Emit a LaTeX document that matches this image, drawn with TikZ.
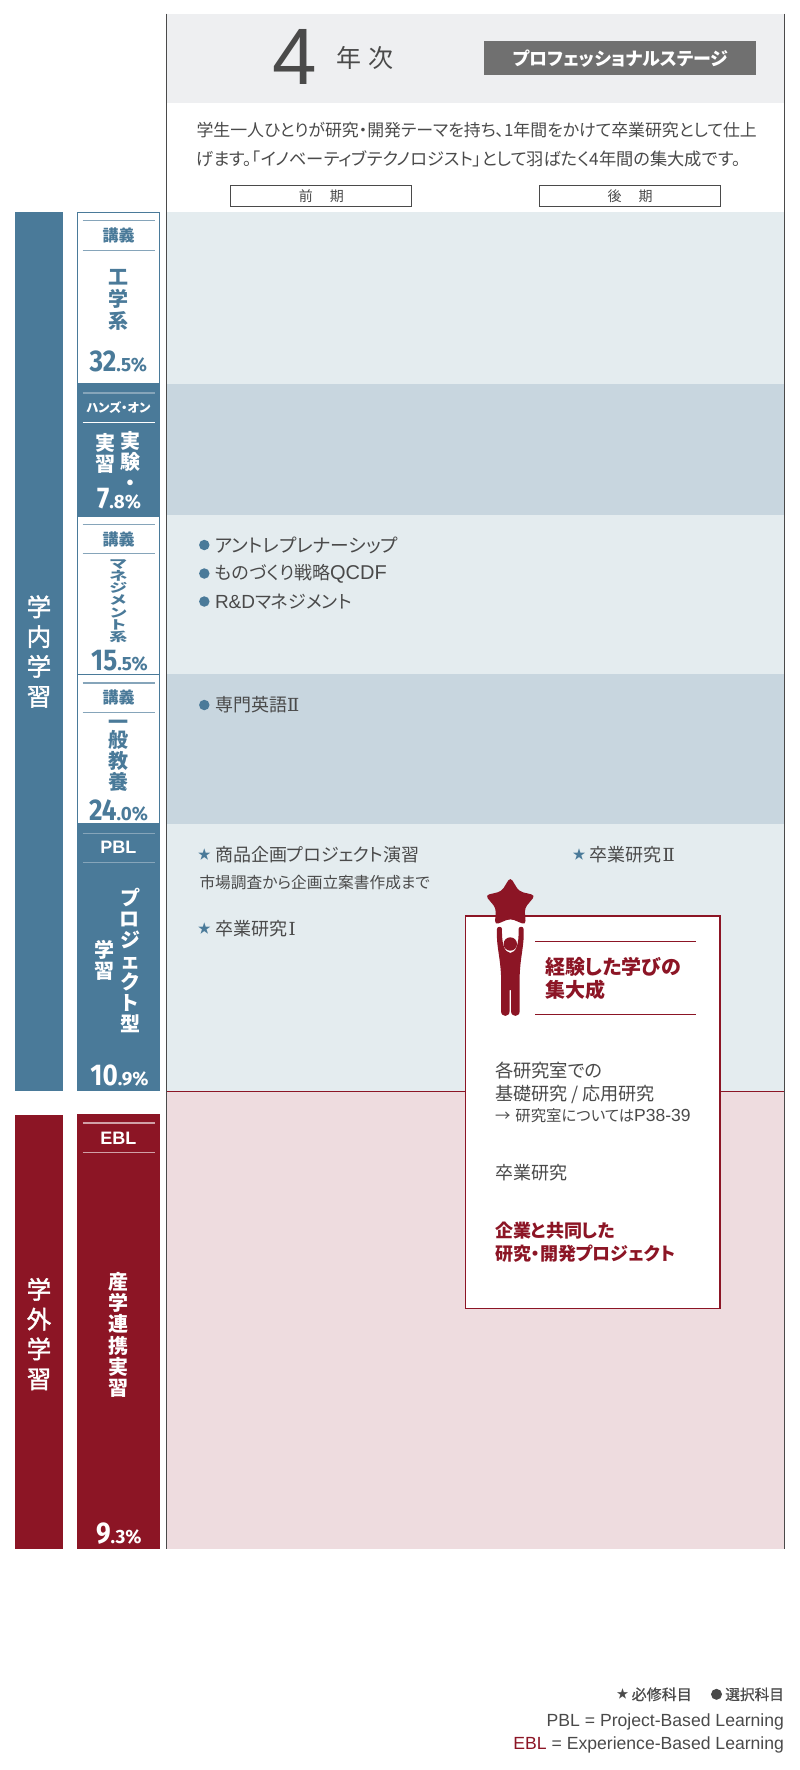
\documentclass[tikz,border=0pt]{standalone}
\usepackage{fontspec}
\newfontfamily\cjk[RawFeature={+palt}]{Noto Sans CJK JP}
\newfontfamily\cjkw{Noto Sans CJK JP}
\newfontfamily\cjkm[RawFeature={+palt},FakeBold=0.6]{Noto Sans CJK JP}
\newfontfamily\cjkn[RawFeature={+palt},FakeBold=1.6]{Noto Sans CJK JP}
\newfontfamily\numf[FakeStretch=0.87]{Fira Sans}
\newfontfamily\numg[FakeStretch=0.98]{Fira Sans}
\newfontfamily\lsans{Liberation Sans}
\newfontfamily\romf{DejaVu Serif}
\newcommand{\fs}[1]{\fontsize{#1}{#1}\selectfont}
\newcommand{\pct}[2]{{\numf\bfseries\fs{30}#1\numg\bfseries\fs{19.2}#2}}
\definecolor{bluem}{HTML}{4A7A99}
\definecolor{bluel}{HTML}{86A5BA}
\definecolor{crim}{HTML}{8C1525}
\definecolor{rowa}{HTML}{E4ECEF}
\definecolor{rowb}{HTML}{C8D6DF}
\definecolor{rowp}{HTML}{EEDCDF}
\definecolor{ink}{HTML}{4A4A4A}
\definecolor{hdr}{HTML}{EEEFF1}
\definecolor{stage}{HTML}{707070}
\tikzset{
  x=1pt,y=-1pt,
  every node/.style={inner sep=0pt,outer sep=0pt},
  txt/.style={anchor=west,text=ink,font=\cjk\fs{18}},
  small/.style={anchor=west,text=ink,font=\cjk\fs{15.7}},
  head/.style={anchor=west,text=crim,font=\cjk\bfseries\fs{18}},
  lec/.style={text=bluem,font=\cjkw\bfseries\fs{16}},
  wlab/.style={text=white,font=\cjk\bfseries\fs{12.4}},
  vert/.style={align=center,text=bluem,font=\cjk\bfseries\fontsize{20}{21.4}\selectfont},
  vertw/.style={align=center,text=white,font=\cjk\bfseries\fontsize{20}{21.2}\selectfont},
  big/.style={align=center,text=white,font=\cjkn\fontsize{24.5}{29.8}\selectfont},
  abbr/.style={text=white,font=\lsans\bfseries\fs{18}},
  bul/.style={circle,fill=bluem,minimum size=10.5pt},
  str/.style={text=bluem,font=\cjkw\fs{13}},
  term/.style={draw=ink,line width=0.9pt,fill=white,minimum width=181pt,minimum height=21.4pt,text=ink,font=\cjkw\fs{14}},
  lgd/.style={anchor=east,text=ink,font=\lsans\fs{17.6}},
}
\begin{document}
\begin{tikzpicture}
\useasboundingbox (0,0) rectangle (800,1770);
\fill[white] (0,0) rectangle (800,1770);
% header and rows
\fill[hdr] (166.5,13.5) rectangle (784.5,103);
\fill[rowa] (166.5,212) rectangle (784.5,383.5);
\fill[rowb] (166.5,383.5) rectangle (784.5,515);
\fill[rowa] (166.5,515) rectangle (784.5,674);
\fill[rowb] (166.5,674) rectangle (784.5,824);
\fill[rowa] (166.5,824) rectangle (784.5,1091);
\fill[rowp] (166.5,1091) rectangle (784.5,1549);
\draw[crim,line width=1pt] (166.5,1091) -- (784.5,1091);
\draw[ink,line width=1pt] (166.5,13.5) -- (166.5,1549);
\draw[ink,line width=1pt] (784.5,13.5) -- (784.5,1549);
% header
\node[text=ink,font=\lsans\fs{80}] (four) at (295,57) {4};
\node[text=ink,font=\cjkw\fs{25}] (nen) at (348.7,58) {年};
\node[text=ink,font=\cjkw\fs{25}] (ji) at (380.8,58) {次};
\node[fill=stage,minimum width=271.5pt,minimum height=33.7pt] (stagebox) at (620.2,58.2) {};
\node[text=white,font=\cjk\bfseries\fs{18}] (stagetxt) at (620.5,58.2) {プロフェッショナルステージ};
\node[txt,font=\cjk\fs{16.9}] (p1) at (196.5,130) {学生一人ひとりが研究・開発テーマを持ち、1年間をかけて卒業研究として仕上};
\node[txt,font=\cjk\fs{17.24}] (p2) at (196.5,159) {げます。「イノベーティブテクノロジスト」として羽ばたく4年間の集大成です。};
\node[term] (zen) at (321.4,196) {前\hspace{17pt}期};
\node[term] (ko) at (630.2,196) {後\hspace{17pt}期};
% left bars
\fill[bluem] (15.3,212) rectangle (62.7,1090.5);
\fill[crim] (15.3,1115) rectangle (62.7,1548.5);
\node[big] (gakunai) at (39,651.5) {学\\内\\学\\習};
\node[big] (gakugai) at (39,1334) {学\\外\\学\\習};
% category column
\draw[bluem,line width=1.4pt,fill=white] (77.4,212.7) rectangle (159.3,383.5);
\fill[bluem] (76.7,383.5) rectangle (160,516);
\draw[bluem,line width=1.2pt,fill=white] (77.4,516) rectangle (159.3,674.5);
\draw[bluem,line width=1.2pt,fill=white] (77.4,674.5) rectangle (159.3,824);
\fill[bluem] (76.7,824) rectangle (160,1091);
\fill[crim] (76.7,1114.3) rectangle (160,1549.3);
% block A
\draw[bluel,line width=1.6pt] (82.5,220.3) -- (154.5,220.3);
\draw[bluel,line width=1pt] (82.5,250.3) -- (154.5,250.3);
\node[lec] (a1) at (118.5,235) {講義};
\node[vert,font=\cjk\bfseries\fontsize{20}{21.8}\selectfont] (a2) at (118.3,300) {工\\学\\系};
\node[text=bluem] (a3) at (118.3,362) {\pct{32}{.5\%}};
% block B
\draw[bluel,line width=1.6pt] (82.5,392.7) -- (154.5,392.7);
\draw[white,line width=1pt] (82.5,422.3) -- (154.5,422.3);
\node[wlab] (b1) at (118.5,407.7) {ハンズ・オン};
\node[vertw] (b2) at (130.7,461) {実\\験\\・};
\node[vertw] (b3) at (105.7,453.5) {実\\習};
\node[text=white] (b4) at (119,499) {\pct{7}{.8\%}};
% block C
\draw[bluel,line width=1.2pt] (82.5,524.3) -- (154.5,524.3);
\draw[bluel,line width=1pt] (82.5,553.3) -- (154.5,553.3);
\node[lec] (c1) at (118.5,539) {講義};
\node[align=center,text=bluem,yscale=0.68,font=\cjk\bfseries\fontsize{18}{18}\selectfont] (c2) at (118.3,601) {マ\\ネ\\ジ\\メ\\ン\\ト\\系};
\node[text=bluem] (c3) at (119.5,661) {\pct{15}{.5\%}};
% block D
\draw[bluel,line width=1.6pt] (82.5,682.7) -- (154.5,682.7);
\draw[bluel,line width=1pt] (82.5,712.3) -- (154.5,712.3);
\node[lec] (d1) at (118.5,697.7) {講義};
\node[vert] (d2) at (118.3,756) {一\\[-4pt]般\\教\\養};
\node[text=bluem] (d3) at (118.5,810) {\pct{24}{.0\%}};
% block E
\draw[bluel,line width=1.2pt] (82.5,833.3) -- (154.5,833.3);
\draw[bluel,line width=1pt] (82.5,862.7) -- (154.5,862.7);
\node[abbr] (e1) at (118.3,847.7) {PBL};
\node[vertw,font=\cjk\bfseries\fontsize{20}{21}\selectfont] (e2) at (130,960) {プ\\ロ\\ジ\\ェ\\ク\\ト\\型};
\node[vertw] (e3) at (104.3,960.5) {学\\習};
\node[text=white] (e4) at (119.5,1076) {\pct{10}{.9\%}};
% block F
\draw[rowp!70!crim,line width=1.2pt] (82.5,1123) -- (154.5,1123);
\draw[rowp!70!crim,line width=1pt] (82.5,1152.7) -- (154.5,1152.7);
\node[abbr] (f1) at (118.3,1138) {EBL};
\node[vertw,font=\cjk\bfseries\fontsize{20}{21.3}\selectfont] (f2) at (118.3,1335) {産\\学\\連\\携\\実\\習};
\node[text=white] (f3) at (118.8,1534) {\pct{9}{.3\%}};
% courses
\node[bul] (b31) at (204.3,545) {};
\node[txt,font=\cjk\fs{18.7}] (t31) at (215,545) {アントレプレナーシップ};
\node[bul] (b32) at (204.3,573.5) {};
\node[txt] (t32) at (215,573.5) {ものづくり戦略{\lsans\fs{20}QCDF}};
\node[bul] (b33) at (204.3,601.5) {};
\node[txt] (t33) at (215,601.5) {{\lsans\fs{19}R\&D}マネジメント};
\node[bul] (b41) at (204.3,705) {};
\node[txt] (t41) at (215,705) {専門英語{\romf Ⅱ}};
\node[str] (s51) at (204.3,854.3) {★};
\node[txt] (t51) at (215,854.3) {商品企画プロジェクト演習};
\node[small] (t52) at (199.5,882.3) {市場調査から企画立案書作成まで};
\node[str] (s53) at (204.3,928.3) {★};
\node[txt] (t53) at (215,928.3) {卒業研究\hspace{1.5pt}{\romf Ⅰ}};
\node[str] (s54) at (579,854.3) {★};
\node[txt] (t54) at (589,854.3) {卒業研究\hspace{1.5pt}{\romf Ⅱ}};
% call-out
\draw[crim,line width=1.3pt,fill=white] (465.7,916) rectangle (720,1308.7);
\fill[crim,rounded corners=4pt] (510.3,877.1) -- (519.1,891.4) -- (535.4,895.3) -- (524.6,908.2) -- (525.8,924.9) -- (510.3,918.5) -- (494.8,924.9) -- (496,908.2) -- (485.2,895.3) -- (501.5,891.4) -- cycle;
\fill[crim] (497,929) .. controls (497,926) and (502,926) .. (502,929)
  .. controls (501.6,945) and (504.6,952) .. (510.3,953)
  .. controls (516,952) and (519,945) .. (518.6,929)
  .. controls (518.6,926) and (523.6,926) .. (523.6,929)
  .. controls (524.5,945) and (520.5,955) .. (519.7,975)
  -- (519.7,1011) .. controls (519.7,1017.5) and (511,1017.5) .. (511,1011)
  -- (511,990) -- (509.6,990) -- (509.6,1011)
  .. controls (509.6,1017.5) and (501,1017.5) .. (501,1011)
  -- (501,975) .. controls (500,955) and (496,945) .. (497,929) -- cycle;
\node[circle,fill=crim,minimum size=13.4pt] (headc) at (510.3,944) {};
\coordinate (r1a) at (535.3,941);
\coordinate (r1b) at (695.7,941);
\coordinate (r2a) at (535.3,1014);
\coordinate (r2b) at (695.7,1014);
\draw[crim,line width=1pt] (r1a) -- (r1b);
\draw[crim,line width=1pt] (r2a) -- (r2b);
\node[head,font=\cjk\bfseries\fs{20}] (h1) at (545,966.7) {経験した学びの};
\node[head,font=\cjk\bfseries\fs{20}] (h2) at (545,990) {集大成};
\node[txt,font=\cjk\fs{18.3}] (x1) at (495,1070.7) {各研究室での};
\node[txt,font=\cjk\fs{18.1}] (x2) at (495,1094.3) {基礎研究 / 応用研究};
\node[small,font=\cjk\fs{15.4}] (x3) at (495,1116) {{\cjkw →}\hspace{5pt}研究室については{\lsans\fs{17.5}P38-39}};
\node[txt] (x4) at (495,1172.3) {卒業研究};
\node[head] (x5) at (495,1230.7) {企業と共同した};
\node[head] (x6) at (495,1253.3) {研究・開発プロジェクト};
% legend
\node[text=ink,font=\cjkw\fs{12}] (l0) at (622.7,1694.3) {★};
\node[anchor=east,text=ink,font=\cjkm\fs{15}] (l1) at (691.7,1694.3) {必修科目};
\node[circle,fill=ink,minimum size=11pt] (l1b) at (716.5,1694.3) {};
\node[anchor=east,text=ink,font=\cjkm\fs{14.7}] (l1c) at (784,1694.3) {選択科目};
\node[lgd] (l2) at (784,1722) {PBL = Project-Based Learning};
\node[lgd] (l3) at (784,1745) {\textcolor{crim}{EBL} = Experience-Based Learning};
\end{tikzpicture}
\end{document}
